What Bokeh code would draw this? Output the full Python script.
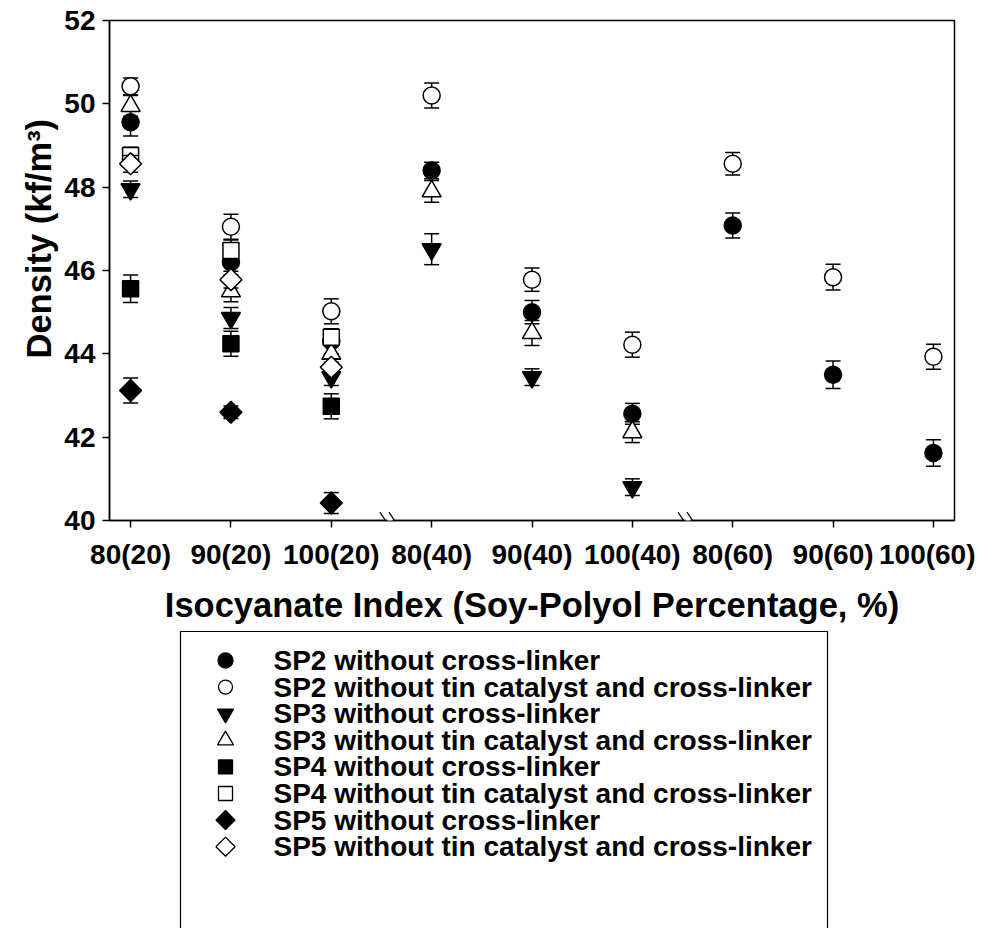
import numpy as np
from bokeh.plotting import figure
from bokeh.models import FixedTicker, Range1d, Arrow, ColumnDataSource, Title
from bokeh.layouts import column
from bokeh.embed import file_html
from bokeh.resources import INLINE
from bokeh.core.properties import value

# ---------------- data ----------------
categories = ["80(20)", "90(20)", "100(20)", "80(40)", "90(40)", "100(40)",
              "80(60)", "90(60)", "100(60)"]

sp2_cl = [49.56, 46.20, 44.30, 48.40, 45.00, 42.56, 47.08, 43.50, 41.62]
sp2_cl_err = [0.33, 0.30, 0.30, 0.20, 0.28, 0.25, 0.30, 0.33, 0.32]
sp2_tin = [50.42, 47.05, 45.02, 50.20, 45.78, 44.22, 48.56, 45.84, 43.93]
sp2_tin_err = [0.20, 0.30, 0.30, 0.30, 0.28, 0.30, 0.27, 0.31, 0.30]

sp3_cl = [47.95, 44.86, 43.44, 46.51, 43.44, 40.80]
sp3_cl_err = [0.20, 0.25, 0.20, 0.37, 0.20, 0.20]
sp3_tin = [49.95, 45.50, 44.00, 47.90, 44.50, 42.12]
sp3_tin_err = [0.25, 0.25, 0.20, 0.26, 0.30, 0.25]

sp4_cl = [45.56, 44.24, 42.74]
sp4_cl_err = [0.33, 0.30, 0.30]
sp4_tin = [48.76, 46.48, 44.40]
sp4_tin_err = [0.20, 0.25, 0.20]

sp5_cl = [43.12, 42.60, 40.42]
sp5_cl_err = [0.30, 0.15, 0.25]
sp5_tin = [48.56, 45.78, 43.68]
sp5_tin_err = [0.20, 0.20, 0.20]

y_ticks = [40, 42, 44, 46, 48, 50, 52]

legend_labels = ["SP2 without cross-linker",
                 "SP2 without tin catalyst and cross-linker",
                 "SP3 without cross-linker",
                 "SP3 without tin catalyst and cross-linker",
                 "SP4 without cross-linker",
                 "SP4 without tin catalyst and cross-linker",
                 "SP5 without cross-linker",
                 "SP5 without tin catalyst and cross-linker"]

FONT = "Liberation Sans"
W = 975
F_LEFT, F_RIGHT, F_TOP, F_BOTTOM = 109, 954, 20, 520
H1 = 628
H2 = 300

# ---------------- main plot ----------------
p = figure(width=W, height=H1, x_range=Range1d(-0.21, 8.21), y_range=Range1d(40, 52),
           output_backend="svg", toolbar_location=None,
           min_border_left=F_LEFT, min_border_right=W - F_RIGHT,
           min_border_top=F_TOP, min_border_bottom=H1 - F_BOTTOM)
p.grid.visible = False
p.outline_line_color = "black"
p.outline_line_width = 1.5
p.background_fill_color = "white"
p.border_fill_color = "white"

p.xaxis.ticker = FixedTicker(ticks=list(range(len(categories))))
p.xaxis.major_label_overrides = {i: c for i, c in enumerate(categories)}
p.yaxis.ticker = FixedTicker(ticks=y_ticks)
p.xaxis.axis_label = "Isocyanate Index (Soy-Polyol Percentage, %)"

for ax in (p.xaxis, p.yaxis):
    ax.axis_line_width = 1.5
    ax.axis_line_color = "black"
    ax.major_tick_line_width = 1.5
    ax.major_tick_line_color = "black"
    ax.major_tick_out = 7
    ax.major_tick_in = 0
    ax.minor_tick_out = 0
    ax.minor_tick_in = 0
    ax.major_label_text_font = FONT
    ax.major_label_text_font_style = "bold"
    ax.major_label_text_font_size = "28px"
    ax.major_label_text_color = "black"
    ax.axis_label_text_font = FONT
    ax.axis_label_text_font_style = "bold"
    ax.axis_label_text_font_size = "34.5px"
    ax.axis_label_text_color = "black"
p.xaxis.major_label_standoff = 11
p.xaxis.axis_label_standoff = 13
p.yaxis.major_label_standoff = 7

# y-axis title (placed higher than centre, like the original)
p.add_layout(Title(text="Density (kf/m\u00b3)", align="left", offset=162, standoff=8,
                   text_font=FONT, text_font_style="bold", text_font_size="34.5px",
                   text_color="black"), "left")


def series(ys, errs, marker, fill, size, angle=0.0):
    ys = np.array(ys, dtype=float)
    errs = np.array(errs, dtype=float)
    src = ColumnDataSource(dict(x=np.arange(len(ys)), y=ys, lo=ys - errs, hi=ys + errs))
    p.segment(x0="x", y0="lo", x1="x", y1="hi", source=src, line_color="black", line_width=1.5)
    p.scatter(x="x", y="hi", source=src, marker="dash", size=15, line_color="black", line_width=1.5)
    p.scatter(x="x", y="lo", source=src, marker="dash", size=15, line_color="black", line_width=1.5)
    p.scatter(x="x", y="y", source=src, marker=marker, size=size, angle=angle,
              fill_color=fill, line_color="black", line_width=1.5)


series(sp2_cl, sp2_cl_err, "circle", "black", 17)
series(sp2_tin, sp2_tin_err, "circle", "white", 17)
series(sp3_cl, sp3_cl_err, "inverted_triangle", "black", 19)
series(sp3_tin, sp3_tin_err, "triangle", "white", 19)
series(sp4_cl, sp4_cl_err, "square", "black", 16)
series(sp4_tin, sp4_tin_err, "square", "white", 16)
series(sp5_cl, sp5_cl_err, "square", "black", 15.5, np.pi / 4)
series(sp5_tin, sp5_tin_err, "square", "white", 15.5, np.pi / 4)

# axis break marks
for xc in (2.585, 5.555):
    p.add_layout(Arrow(end=None, start=None, x_start=xc - 0.025, x_end=xc + 0.025,
                       y_start=40, y_end=40, line_color="white", line_width=4))
    for dx in (-0.045, 0.045):
        p.add_layout(Arrow(end=None, start=None, x_start=xc + dx - 0.055, x_end=xc + dx + 0.055,
                           y_start=40.2, y_end=39.8, line_color="black", line_width=1.2))

# ---------------- legend panel (coordinates = page pixels) ----------------
p2 = figure(width=W, height=H2, x_range=Range1d(F_LEFT, F_RIGHT), y_range=Range1d(H1 + H2, H1),
            output_backend="svg", toolbar_location=None,
            min_border_left=F_LEFT, min_border_right=W - F_RIGHT,
            min_border_top=0, min_border_bottom=0)
p2.axis.visible = False
p2.grid.visible = False
p2.outline_line_color = None
p2.background_fill_color = "white"

p2.quad(left=[180], right=[827], top=[631], bottom=[1100], fill_color=None,
        line_color="black", line_width=1.2)

n = len(legend_labels)
rows = [660 + 26.6 * i for i in range(n)]
leg_src = ColumnDataSource(dict(
    x=[225] * n, tx=[273] * n, y=rows, label=legend_labels,
    marker=["circle", "circle", "inverted_triangle", "triangle", "square", "square", "square", "square"],
    fill=["black", "white"] * 4,
    size=[15, 14, 16, 16, 14, 14, 13.5, 13.5],
    angle=[0, 0, 0, 0, 0, 0, np.pi / 4, np.pi / 4],
))
p2.scatter(x="x", y="y", source=leg_src, marker="marker", size="size", angle="angle",
           fill_color="fill", line_color="black", line_width=1.3)
p2.text(x="tx", y="y", text="label", source=leg_src, text_font=value(FONT),
        text_font_style="bold", text_font_size="28px", text_baseline="middle",
        text_align="left", text_color="black")

layout = column(p, p2, spacing=0)
open("out.html", "w").write(file_html(layout, INLINE))
